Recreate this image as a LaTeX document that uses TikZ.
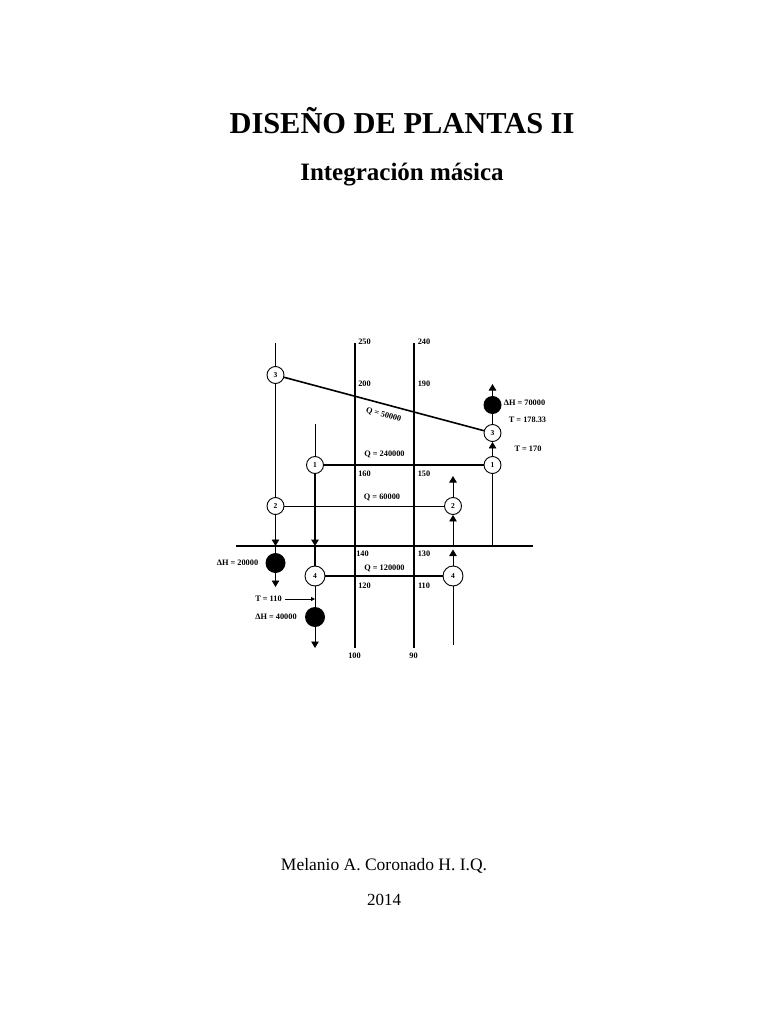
\documentclass[tikz,border=0pt]{standalone}
\usepackage{fontspec}
\setmainfont{Liberation Serif}
\usetikzlibrary{arrows.meta}
\tikzset{
  x=1pt,y=-1pt,
  stream/.style={draw=black,line width=0.9pt},
  heavy/.style={draw=black,line width=1.6pt},
  bar/.style={draw=black,line width=2pt},
  tip/.style={-{Triangle[length=6.5pt,width=7.5pt]}},
  unit/.style={circle,draw=black,fill=white,line width=0.9pt,minimum size=17pt,inner sep=0pt,font=\bfseries\fontsize{7.5}{8}\selectfont},
  bigunit/.style={unit,minimum size=20pt},
  util/.style={circle,fill=black,draw=none,minimum size=20pt,inner sep=0pt},
  lab/.style={inner sep=0pt,font=\bfseries\fontsize{8.3}{10}\selectfont},
}
\begin{document}
\begin{tikzpicture}
\useasboundingbox (0,0) rectangle (768,1024);
\fill[white] (0,0) rectangle (768,1024);
% coordinates
\coordinate (v1t) at (354.5,343); \coordinate (v1b) at (354.5,648);
\coordinate (v2t) at (413.5,343); \coordinate (v2b) at (413.5,648);
\coordinate (hl) at (236,546); \coordinate (hr) at (533,546);
\coordinate (a3) at (275.5,343);
\coordinate (a1) at (315,424);
\coordinate (a4) at (453,645);
\coordinate (p2) at (275.5,546);
\coordinate (p1) at (315,546);
\coordinate (q2) at (453,546);
\coordinate (q1) at (492.5,546);
\coordinate (e2) at (275.5,587);
\coordinate (e4) at (315,648);
\coordinate (e3) at (492.5,384);
\coordinate (e22) at (453,476);
\coordinate (e44) at (453,549.5);
\coordinate (tstart) at (285,599);
\coordinate (tend) at (315,599);
% nodes
\node[unit] (L3) at (275.5,375) {3};
\node[unit] (L2) at (275.5,506) {2};
\node[unit] (L1) at (315,465) {1};
\node[bigunit] (L4) at (315,576) {4};
\node[unit] (R3) at (492.5,433) {3};
\node[unit] (R1) at (492.5,465) {1};
\node[unit] (R2) at (453,506) {2};
\node[bigunit] (R4) at (453,576) {4};
\node[util,minimum size=18pt] (U3) at (492.5,405) {};
\node[util] (U2) at (275.5,563) {};
\node[util] (U4) at (315,617) {};
% bars
\draw[bar] (v1t) -- (v1b);
\draw[bar] (v2t) -- (v2b);
\draw[bar] (hl) -- (hr);
% streams
\draw[stream] (a3) -- (L3);
\draw[stream] (L3) -- (L2);
\draw[stream,tip] (L2) -- (p2);
\draw[stream] (p2) -- (U2);
\draw[stream,tip] (U2) -- (e2);
\draw[stream] (a1) -- (L1);
\draw[heavy,tip] (L1) -- (p1);
\draw[heavy] (p1) -- (L4);
\draw[stream] (L4) -- (U4);
\draw[stream,tip] (U4) -- (e4);
\draw[stream,-{Triangle[length=4pt,width=4pt]}] (tstart) -- (tend);
\draw[stream] (a4) -- (R4);
\draw[stream,tip] (R4) -- (e44);
\draw[stream,tip] (q2) -- (R2);
\draw[stream,tip] (R2) -- (e22);
\draw[stream] (q1) -- (R1);
\draw[stream,tip] (R1) -- (R3);
\draw[stream] (R3) -- (U3);
\draw[stream,tip] (U3) -- (e3);
\draw[heavy] (L3) -- (R3);
\draw[heavy] (L1) -- (R1);
\draw[stream] (L2) -- (R2);
\draw[heavy] (L4) -- (R4);
% texts
\node[font=\bfseries\fontsize{30.4}{34}\selectfont] (title) at (402,121) {DISEÑO DE PLANTAS II};
\node[font=\bfseries\fontsize{25}{28}\selectfont] (sub) at (402,174.5) {Integración másica};
\node[font=\fontsize{17.5}{20}\selectfont] (auth) at (384,866) {Melanio A. Coronado H. I.Q.};
\node[font=\fontsize{17}{20}\selectfont] (year) at (384,900) {2014};
\node[lab] (t250) at (364.5,342) {250};
\node[lab] (t240) at (424,342) {240};
\node[lab] (t200) at (364.5,383.5) {200};
\node[lab] (t190) at (424,383.5) {190};
\node[lab] (t160) at (364.5,474) {160};
\node[lab] (t150) at (424,474) {150};
\node[lab] (t140) at (362.5,554) {140};
\node[lab] (t130) at (424,554) {130};
\node[lab] (t120) at (364.5,586) {120};
\node[lab] (t110) at (424,586) {110};
\node[lab] (t100) at (354.5,655.5) {100};
\node[lab] (t90) at (413.5,655.5) {90};
\node[lab,rotate=-15] (q5) at (383.5,415) {Q = 50000};
\node[lab] (q24) at (384.5,454) {Q = 240000};
\node[lab] (q6) at (382,497) {Q = 60000};
\node[lab] (q12) at (384.5,568) {Q = 120000};
\node[lab] (h7) at (524.5,403) {ΔH = 70000};
\node[lab] (t178) at (527.5,420) {T = 178.33};
\node[lab] (t170) at (528,449) {T = 170};
\node[lab] (h2) at (237.5,563) {ΔH = 20000};
\node[lab] (t11) at (268.5,599) {T = 110};
\node[lab] (h4) at (276,617) {ΔH = 40000};
\end{tikzpicture}
\end{document}
